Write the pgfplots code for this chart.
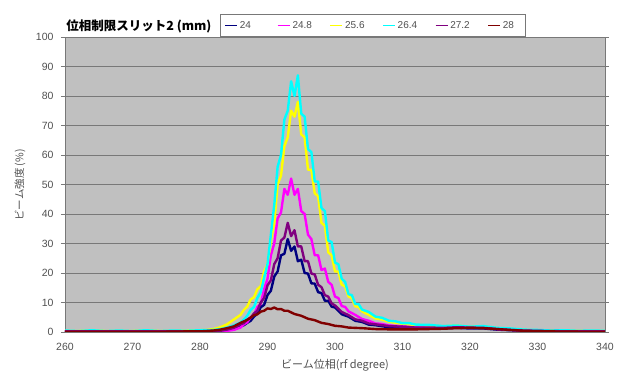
\documentclass[border=0pt]{standalone}
\usepackage{fontspec}
\setmainfont{Liberation Sans}
\newfontfamily\jp{Noto Sans CJK JP}
\usepackage{pgfplots}
\pgfplotsset{compat=1.18}
\definecolor{bg}{RGB}{192,192,192}
\definecolor{gridc}{RGB}{120,120,120}
\definecolor{txt}{RGB}{80,80,80}
\definecolor{cNavy}{RGB}{0,0,128}
\definecolor{cMag}{RGB}{255,0,255}
\definecolor{cYel}{RGB}{255,255,0}
\definecolor{cCyan}{RGB}{0,255,255}
\definecolor{cPur}{RGB}{128,0,128}
\definecolor{cDred}{RGB}{128,0,0}
\newcommand{\lt}[2][25pt]{\makebox[#1][l]{\textcolor{txt}{#2}}}
\begin{document}
\begin{tikzpicture}
\useasboundingbox (-65pt,-42pt) rectangle (554pt,332pt);
\begin{axis}[
  at={(0pt,0pt)}, anchor=south west,
  scale only axis, width=540pt, height=295pt,
  xmin=260, xmax=340, ymin=0, ymax=100,
  xtick={260,270,...,340}, ytick={0,10,...,100},
  axis background/.style={fill=bg},
  axis line style={draw=gridc},
  ymajorgrids, grid style={draw=gridc, line width=0.9pt},
  tick align=outside,
  xtick style={draw=none},
  ytick style={draw=gridc, line width=0.6pt},
  major tick length=4pt,
  tick label style={font=\fontsize{10.5}{12}\selectfont, text=txt},
  /pgf/number format/assume math mode=true,
  xticklabel style={yshift=-4pt},
  yticklabel style={xshift=-4pt},
  legend columns=6,
  legend style={at={(155pt,295pt)}, anchor=south west, draw=gridc, line width=0.6pt,
    font=\fontsize{10}{12}\selectfont, inner xsep=4pt, inner ysep=5pt,
    /tikz/every even column/.append style={column sep=10pt}},
  legend image code/.code={\draw[#1] (0pt,0pt) -- (12pt,0pt);},
  every axis plot/.append style={line width=2.4pt, line join=round},
]
\addlegendimage{draw=cNavy, line width=1.6pt}
\addlegendentry{\lt{24}}
\addlegendimage{draw=cMag, line width=1.6pt}
\addlegendentry{\lt{24.8}}
\addlegendimage{draw=cYel, line width=1.6pt}
\addlegendentry{\lt{25.6}}
\addlegendimage{draw=cCyan, line width=1.6pt}
\addlegendentry{\lt{26.4}}
\addlegendimage{draw=cPur, line width=1.6pt}
\addlegendentry{\lt{27.2}}
\addlegendimage{draw=cDred, line width=1.6pt}
\addlegendentry{\lt[16pt]{28}}
% 24
\addplot[draw=cNavy, forget plot] coordinates {(260,0.2)(265,0.1)(270,0.2)(275,0.1)(280,0.2)(283,0.3)(284,0.6)(285,1)(286,1.9)(286.5,2.3)(287,3.1)(287.5,3.8)(288,5.2)(288.5,6.2)(289,8.4)(289.5,9.2)(290,12.5)(290.5,14)(291,18.8)(291.5,20.5)(292,26)(292.5,26.5)(293,31.5)(293.5,27.5)(294,29)(294.5,24)(295,24.5)(295.5,20)(296,19.8)(296.5,16.5)(297,16.4)(297.5,13.5)(298,13.2)(298.5,10.6)(299,10.6)(299.5,8.6)(300,8.3)(301,6)(302,5.2)(303,3.8)(304,3.4)(305,2.5)(306,2.3)(308,1.6)(310,1.5)(312,1.2)(314,1.3)(316,1.2)(318,1.4)(320,1.2)(322,1.2)(324,0.8)(326,0.6)(328,0.4)(332,0.2)(336,0.2)(340,0.1)};
% 24.8
\addplot[draw=cMag, forget plot] coordinates {(260,0.2)(265,0.2)(270,0.2)(275,0.2)(280,0.2)(283,0.3)(284,0.4)(285,0.7)(285.5,1.1)(286,1.5)(286.5,2.6)(287,3.3)(287.5,5)(288,5.8)(288.5,8.5)(289,9.5)(289.5,14.5)(290,18)(290.5,26)(291,30)(291.5,38.5)(292,40.5)(292.5,48.5)(293,46.5)(293.5,52)(294,46.5)(294.5,48.5)(295,41)(295.5,40)(296,33)(296.5,31.5)(297,26)(297.5,26)(298,21)(298.5,21.5)(299,17)(299.5,16)(300,12)(300.5,11.5)(301,8.8)(301.5,8.5)(302,7)(303,5.8)(304,4.4)(305,3.8)(306,2.9)(307,2.7)(308,2.2)(310,2)(312,1.6)(314,1.7)(316,1.4)(318,1.7)(320,1.4)(322,1.5)(324,1)(326,0.8)(328,0.5)(332,0.3)(336,0.3)(340,0.2)};
% 25.6
\addplot[draw=cYel, forget plot] coordinates {(260,0.3)(264,0.4)(268,0.3)(272,0.4)(276,0.3)(279,0.5)(281,0.7)(282,1)(283,1.6)(284,2.6)(285,4.2)(286,5.8)(286.5,7.5)(287,8.6)(287.5,11)(288,11.8)(288.5,14.5)(289,15.5)(289.5,20.5)(290,23)(290.5,31)(291,37)(291.5,50)(292,53)(292.5,63)(293,66)(293.5,75)(294,73)(294.5,78)(295,67)(295.5,66)(296,55)(296.5,55)(297,47)(297.5,46)(298,37)(298.5,36)(299,27)(299.5,26)(300,20.5)(300.5,20.5)(301,16)(301.5,15.5)(302,12)(302.5,11.5)(303,8.7)(303.5,8.5)(304,7)(305,5.8)(306,4.6)(307,4.2)(308,3.5)(309,3.1)(310,2.8)(312,2.4)(314,2.2)(316,1.9)(318,2.2)(320,1.7)(322,1.9)(324,1.3)(326,1)(328,0.7)(330,0.5)(334,0.4)(340,0.3)};
% 26.4
\addplot[draw=cCyan, forget plot] coordinates {(260,0.5)(262,0.3)(264,0.6)(266,0.3)(268,0.5)(270,0.3)(272,0.6)(274,0.3)(276,0.5)(278,0.4)(280,0.6)(282,0.7)(283,1)(284,1.5)(285,2.2)(286,3.2)(286.5,4.2)(287,5.5)(287.5,7.5)(288,8.5)(288.5,11.5)(289,13.5)(289.5,18.5)(290,23)(290.5,33)(291,43)(291.5,56)(292,60)(292.5,72)(293,75)(293.5,85)(294,80)(294.5,87)(295,74)(295.5,73)(296,62)(296.5,61)(297,51)(297.5,51)(298,42)(298.5,41)(299,31)(299.5,30.5)(300,23.5)(300.5,23)(301,18)(301.5,17)(302,12.8)(302.5,12.5)(303,9.5)(303.5,9.5)(304,7.6)(305,6.8)(306,5.2)(307,4.8)(308,3.8)(309,3.6)(310,3)(311,3)(312,2.5)(314,2.4)(316,2)(318,2.2)(320,1.8)(322,2)(324,1.4)(326,1.2)(328,0.8)(330,0.7)(332,0.5)(334,0.6)(336,0.4)(338,0.5)(340,0.4)};
% 27.2
\addplot[draw=cPur, forget plot] coordinates {(260,0.2)(265,0.2)(270,0.2)(275,0.2)(280,0.2)(282,0.3)(283,0.4)(284,0.8)(285,1.4)(286,2.6)(286.5,3)(287,4.2)(287.5,4.8)(288,6.3)(288.5,7.2)(289,10)(289.5,11.5)(290,15.8)(290.5,17.5)(291,23)(291.5,25)(292,31)(292.5,32)(293,37)(293.5,32.5)(294,34.5)(294.5,29)(295,29)(295.5,24)(296,24)(296.5,19.8)(297,19.5)(297.5,16)(298,15.2)(298.5,12.5)(299,12)(299.5,9.7)(300,9)(301,6.8)(302,5.7)(303,4.3)(304,3.8)(305,2.9)(306,2.6)(308,2)(310,1.8)(312,1.5)(314,1.5)(316,1.4)(318,1.6)(320,1.5)(322,1.4)(324,1)(326,0.7)(328,0.5)(332,0.3)(336,0.2)(340,0.2)};
% 28
\addplot[draw=cDred, forget plot] coordinates {(260,0.1)(265,0.1)(270,0.1)(275,0.1)(278,0.2)(280,0.2)(282,0.5)(283,0.8)(284,1.3)(285,1.9)(286,3.1)(287,4.1)(288,5.7)(288.5,6)(289,6.9)(289.5,7.2)(290,8)(290.5,7.8)(291,8.3)(291.5,7.7)(292,7.8)(292.5,7.2)(293,7.2)(294,6.1)(295,5.5)(296,4.5)(297,4)(298,3.1)(299,2.7)(300,2.1)(301,1.9)(302,1.5)(304,1.3)(306,1)(308,0.9)(310,0.9)(312,0.9)(314,1)(316,1.1)(318,1.3)(320,1.4)(322,1.3)(324,1)(326,0.7)(328,0.4)(332,0.2)(336,0.1)(340,0.1)};
\end{axis}
\node[anchor=east, font=\jp\bfseries\fontsize{12.5}{14}\selectfont] at (150pt,306pt) {位相制限スリット2 (mm)};
\node[rotate=90, text=txt, font=\jp\fontsize{10.5}{12}\selectfont] at (-45pt,147pt) {ビーム強度 (\%)};
\node[text=txt, font=\jp\fontsize{11}{13}\selectfont] at (270pt,-33pt) {ビーム位相(rf degree)};
\end{tikzpicture}
\end{document}
